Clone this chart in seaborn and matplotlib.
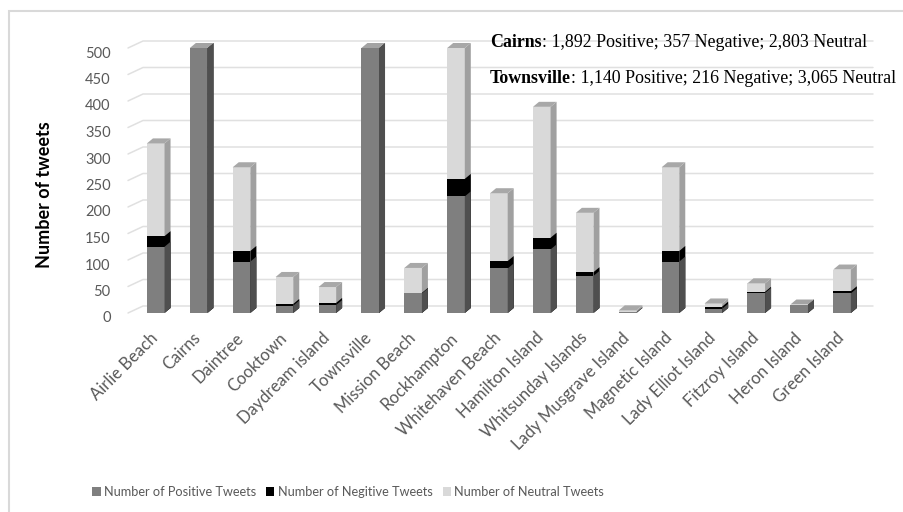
import matplotlib
matplotlib.use("Agg")
import matplotlib.pyplot as plt
import numpy as np
import pandas as pd
import seaborn as sns
from matplotlib.patches import Polygon, Rectangle, Patch
from matplotlib.transforms import ScaledTranslation

# ---- data ------------------------------------------------------------
locations = [
    "Airlie Beach", "Cairns", "Daintree", "Cooktown", "Daydream island",
    "Townsville", "Mission Beach", "Rockhampton", "Whitehaven Beach",
    "Hamilton Island", "Whitsunday Islands", "Lady Musgrave Island",
    "Magnetic Island", "Lady Elliot Island", "Fitzroy Island",
    "Heron Island", "Green Island",
]
positive = [125, 500, 97, 14, 15, 500, 37, 220, 84, 120, 70, 1, 97, 8, 38, 16, 37]
negative = [20, 0, 20, 3, 4, 0, 1, 33, 14, 22, 7, 0, 20, 4, 2, 0, 4]
neutral = [175, 0, 158, 51, 30, 0, 47, 247, 128, 247, 112, 4, 158, 6, 16, 0, 41]

y_ticks = list(range(0, 501, 50))
series_labels = ["Number of Positive Tweets", "Number of Negitive Tweets",
                 "Number of Neutral Tweets"]
city_names = ["Cairns", "Townsville"]
city_summaries = [": 1,892 Positive; 357 Negative; 2,803 Neutral",
                  ": 1,140 Positive; 216 Negative; 3,065 Neutral"]

# ---- styling ---------------------------------------------------------
sns.set_theme(style="white")
plt.rcParams["font.family"] = ["Lato", "DejaVu Sans"]

face = {"pos": "#7f7f7f", "neg": "#000000", "neu": "#d9d9d9"}
side = {"pos": "#4f4f4f", "neg": "#000000", "neu": "#a0a0a0"}
top = {"pos": "#a3a3a3", "neg": "#1a1a1a", "neu": "#a8a8a8"}
text_grey = "#595959"

W, H = 904, 512
fig = plt.figure(figsize=(W / 100, H / 100), dpi=100)
fig.patch.set_facecolor("white")

ax_l, ax_r, ax_b, ax_t = 134.3, 863.5, 313.0, 48.0
ax = fig.add_axes([ax_l / W, 1 - ax_b / H, (ax_r - ax_l) / W, (ax_b - ax_t) / H])
n = len(locations)
sx = (ax_r - ax_l) / n          # pixels per category
sy = (ax_b - ax_t) / 500.0      # pixels per tweet
dx, dy = 6 / sx, 5 / sy         # depth of the 3-D extrusion in data units

df = pd.DataFrame({"location": locations, "positive": positive,
                   "negative": negative, "neutral": neutral})
df["pos_neg"] = df["positive"] + df["negative"]
df["total"] = df["pos_neg"] + df["neutral"]

# back-wall gridlines with a short perspective run-in on the left
x_front = (128 - ax_l) / sx - 0.5
x_back0 = (143 - ax_l) / sx - 0.5
x_back1 = (873 - ax_l) / sx - 0.5
g_dy = 7 / sy
for v in y_ticks:
    ax.plot([x_front, x_back0, x_back1], [v, v + g_dy, v + g_dy],
            color="#e0e0e0", lw=1.1, zorder=0, clip_on=False)

# stacked bars drawn as overlapping layers, back to front
bar_w = 0.41
layers = [("total", "neu", 2), ("pos_neg", "neg", 3), ("positive", "pos", 4)]
for col, key, z in layers:
    sns.barplot(data=df, x="location", y=col, color=face[key], saturation=1,
                width=bar_w, linewidth=0, ax=ax, zorder=z)
    for p in ax.containers[-1]:
        h = p.get_height()
        if h <= 0:
            continue
        x1 = p.get_x() + p.get_width()
        y0 = p.get_y()
        ax.add_patch(Polygon([(x1, y0), (x1 + dx, y0 + dy), (x1 + dx, h + dy), (x1, h)],
                             closed=True, facecolor=side[key], edgecolor="none",
                             zorder=z, clip_on=False))

# top faces coloured by the uppermost segment
for p, pos_v, neg_v, neu_v in zip(ax.containers[0], positive, negative, neutral):
    h = p.get_height()
    key = "neu" if neu_v > 0 else ("neg" if neg_v > 0 else "pos")
    x0 = p.get_x()
    x1 = x0 + p.get_width()
    ax.add_patch(Polygon([(x0, h), (x0 + dx, h + dy), (x1 + dx, h + dy), (x1, h)],
                         closed=True, facecolor=top[key], edgecolor="none",
                         zorder=5, clip_on=False))

ax.set_xlim(-0.5, n - 0.5)
ax.set_ylim(0, 500)
ax.set_xlabel("")
ax.set_ylabel("")
for s in ax.spines.values():
    s.set_visible(False)
ax.set_yticks(y_ticks)
ax.set_yticklabels([str(v) for v in y_ticks])
ax.set_xticks(range(n))
ax.set_xticklabels(locations, rotation=45, ha="right", rotation_mode="anchor")
ax.tick_params(axis="both", length=0, labelcolor=text_grey)
ax.tick_params(axis="y", pad=17, labelsize=10.5)
ax.tick_params(axis="x", pad=12, labelsize=12)
for lbl in ax.get_yticklabels():
    lbl.set_transform(lbl.get_transform() + ScaledTranslation(0, -0.04, fig.dpi_scale_trans))
for lbl in ax.get_xticklabels():
    lbl.set_transform(lbl.get_transform() + ScaledTranslation(-0.06, 0, fig.dpi_scale_trans))

fig.text(45 / W, 1 - 195 / H, "Number of tweets", rotation=90, ha="center",
         va="center", fontsize=13, fontweight="bold", color="black")

# city summaries: bold name followed by the counts
serif = ["Liberation Serif", "DejaVu Serif"]
for name, summary, ypx in zip(city_names, city_summaries, [47, 83]):
    t1 = fig.text(490 / W, 1 - ypx / H, name, fontsize=12.9, fontweight="bold",
                  family=serif, color="black", va="baseline", ha="left")
    ax.annotate(summary, xy=(1, 0), xycoords=t1, fontsize=12.9,
                family=serif, color="black", va="bottom", ha="left",
                annotation_clip=False)

handles = [Patch(facecolor=face[k], edgecolor="none") for k in ["pos", "neg", "neu"]]
fig.legend(handles, series_labels, loc="center", ncol=3,
           bbox_to_anchor=(348 / W, 1 - 492 / H), frameon=False,
           prop={"size": 9.2}, labelcolor=text_grey,
           handlelength=0.65, handleheight=0.65, handletextpad=0.25,
           columnspacing=0.8)

fig.add_artist(Rectangle((9 / W, -0.1), 1.0, 1 - 11 / H + 0.1,
                         transform=fig.transFigure, fill=False,
                         edgecolor="#d9d9d9", lw=1.5))

fig.savefig("out.png", dpi=100, facecolor="white")
